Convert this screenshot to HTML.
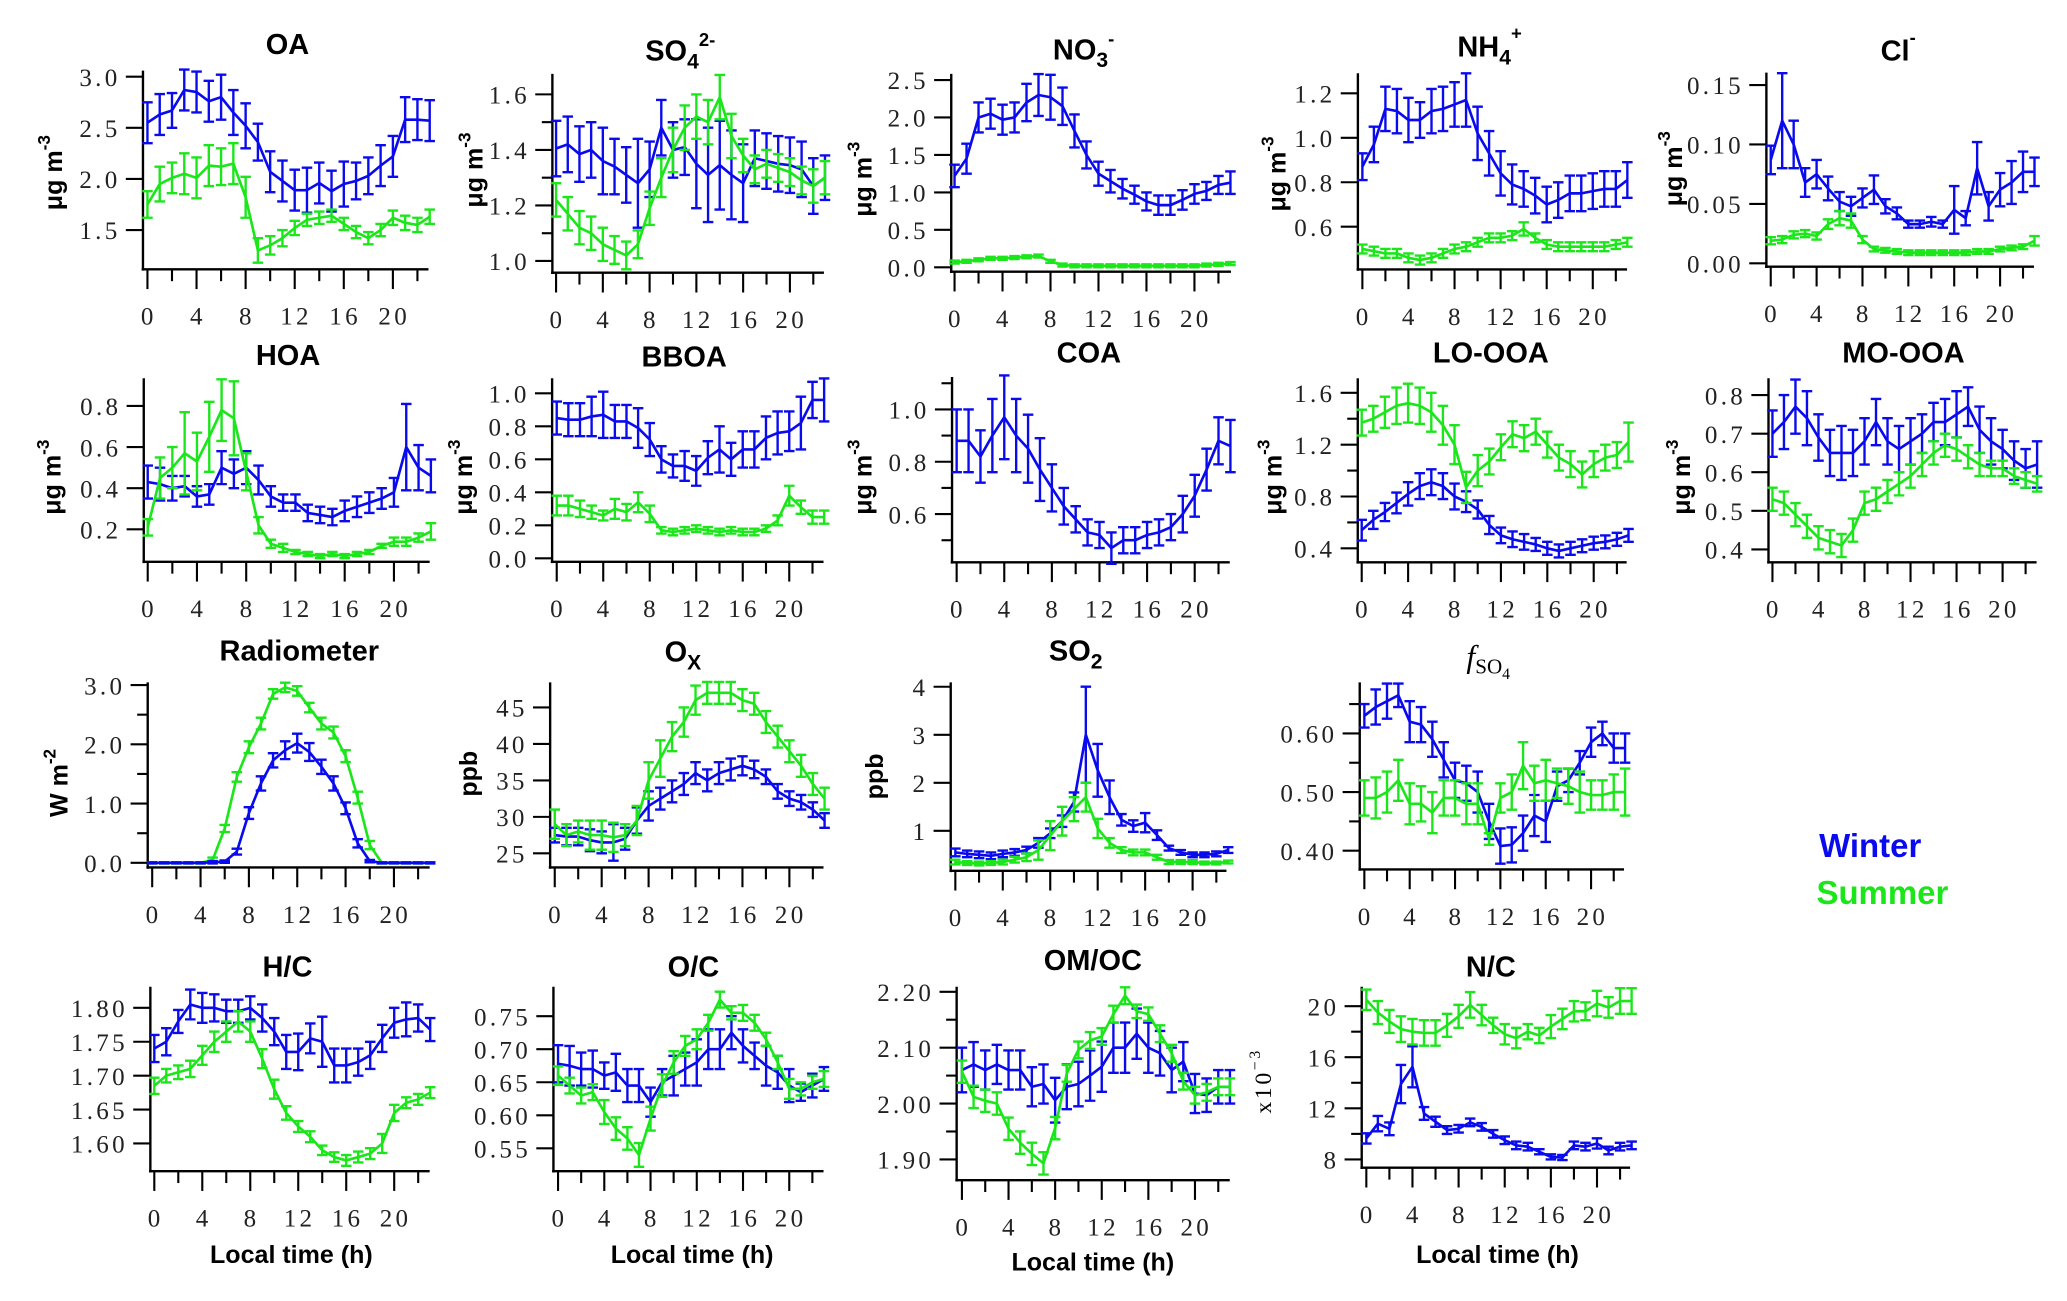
<!DOCTYPE html>
<html><head><meta charset="utf-8"><style>
html,body{margin:0;padding:0;background:#fff;}
svg{display:block;}
.tl{font-family:"Liberation Serif",serif;font-size:19px;letter-spacing:2.5px;fill:#222;}
.ti{font-family:"Liberation Sans",sans-serif;font-size:22px;font-weight:bold;fill:#000;}
.yl{font-family:"Liberation Sans",sans-serif;font-size:19px;font-weight:bold;fill:#000;}
.xl{font-family:"Liberation Sans",sans-serif;font-size:19px;font-weight:bold;fill:#000;}
</style></head><body>
<svg id="fig" xmlns="http://www.w3.org/2000/svg" width="2067" height="1301" viewBox="0 0 1568 987">
<rect x="0" y="0" width="1568" height="987" fill="#fff"/>
<g>
<text class="ti" x="218" y="41" text-anchor="middle">OA</text>
<text class="ti" x="516" y="46" text-anchor="middle">SO<tspan font-size="16" dy="6">4</tspan><tspan font-size="14" dy="-17">2-</tspan></text>
<text class="ti" x="822" y="45" text-anchor="middle">NO<tspan font-size="16" dy="6">3</tspan><tspan font-size="14" dy="-17">-</tspan></text>
<text class="ti" x="1130" y="43" text-anchor="middle">NH<tspan font-size="16" dy="6">4</tspan><tspan font-size="14" dy="-19">+</tspan></text>
<text class="ti" x="1440" y="46" text-anchor="middle">Cl<tspan font-size="14" dy="-13">-</tspan></text>
<text class="ti" x="218.5" y="277" text-anchor="middle">HOA</text>
<text class="ti" x="519" y="278" text-anchor="middle">BBOA</text>
<text class="ti" x="826" y="275" text-anchor="middle">COA</text>
<text class="ti" x="1131" y="275" text-anchor="middle">LO-OOA</text>
<text class="ti" x="1444" y="275" text-anchor="middle">MO-OOA</text>
<text class="ti" x="227" y="501" text-anchor="middle">Radiometer</text>
<text class="ti" x="518" y="502" text-anchor="middle">O<tspan font-size="16" dy="6">X</tspan></text>
<text class="ti" x="816" y="501" text-anchor="middle">SO<tspan font-size="16" dy="6">2</tspan></text>
<text x="1129" y="506" text-anchor="middle" style="font-family:'Liberation Serif',serif;font-size:24px;"><tspan font-style="italic">f</tspan><tspan font-size="16" dy="5">SO</tspan><tspan font-size="12" dy="4">4</tspan></text>
<text class="ti" x="218" y="741" text-anchor="middle">H/C</text>
<text class="ti" x="526" y="741" text-anchor="middle">O/C</text>
<text class="ti" x="829" y="736" text-anchor="middle">OM/OC</text>
<text class="ti" x="1131" y="741" text-anchor="middle">N/C</text>
</g>
<g>
<text class="yl" transform="translate(47,131) rotate(-90)" text-anchor="middle">μg m<tspan font-size="13" dy="-9">-3</tspan></text>
<text class="yl" transform="translate(366,129) rotate(-90)" text-anchor="middle">μg m<tspan font-size="13" dy="-9">-3</tspan></text>
<text class="yl" transform="translate(661,136) rotate(-90)" text-anchor="middle">μg m<tspan font-size="13" dy="-9">-3</tspan></text>
<text class="yl" transform="translate(975,132) rotate(-90)" text-anchor="middle">μg m<tspan font-size="13" dy="-9">-3</tspan></text>
<text class="yl" transform="translate(1276,128) rotate(-90)" text-anchor="middle">μg m<tspan font-size="13" dy="-9">-3</tspan></text>
<text class="yl" transform="translate(46,362) rotate(-90)" text-anchor="middle">μg m<tspan font-size="13" dy="-9">-3</tspan></text>
<text class="yl" transform="translate(358,362) rotate(-90)" text-anchor="middle">μg m<tspan font-size="13" dy="-9">-3</tspan></text>
<text class="yl" transform="translate(661,362) rotate(-90)" text-anchor="middle">μg m<tspan font-size="13" dy="-9">-3</tspan></text>
<text class="yl" transform="translate(972,362) rotate(-90)" text-anchor="middle">μg m<tspan font-size="13" dy="-9">-3</tspan></text>
<text class="yl" transform="translate(1282,362) rotate(-90)" text-anchor="middle">μg m<tspan font-size="13" dy="-9">-3</tspan></text>
<text class="yl" transform="translate(51,594) rotate(-90)" text-anchor="middle">W m<tspan font-size="13" dy="-9">-2</tspan></text>
<text class="yl" transform="translate(362,587) rotate(-90)" text-anchor="middle">ppb</text>
<text class="yl" transform="translate(670,589) rotate(-90)" text-anchor="middle">ppb</text>
<text transform="translate(964,820) rotate(-90)" text-anchor="middle" style="font-family:'Liberation Serif',serif;font-size:18px;letter-spacing:2px;">x10<tspan font-size="12" dy="-8">−3</tspan></text>
</g>
<g>
<text class="xl" x="221" y="958" text-anchor="middle">Local time (h)</text>
<text class="xl" x="525" y="958" text-anchor="middle">Local time (h)</text>
<text class="xl" x="829" y="964" text-anchor="middle">Local time (h)</text>
<text class="xl" x="1136" y="958" text-anchor="middle">Local time (h)</text>
</g>
<g>
<text x="1380" y="650" style="font-family:'Liberation Sans',sans-serif;font-size:25px;font-weight:bold;" fill="#0a0aef">Winter</text>
<text x="1378" y="686" style="font-family:'Liberation Sans',sans-serif;font-size:25px;font-weight:bold;" fill="#1ae61a">Summer</text>
</g>
<g id="panels"></g>
</svg>
<script>
const hours=[0,1,2,3,4,5,6,7,8,9,10,11,12,13,14,15,16,17,18,19,20,21,22,23];
const xTickHours=[0,2,4,6,8,10,12,14,16,18,20,22];
const xTickLabels=["0","","4","","8","","12","","16","","20",""];

const oaW=[2.55,2.63,2.67,2.87,2.85,2.76,2.80,2.65,2.52,2.36,2.07,1.98,1.89,1.89,1.96,1.88,1.95,1.98,2.03,2.13,2.22,2.58,2.58,2.57];
const oaWe=[0.2,0.2,0.17,0.2,0.2,0.2,0.22,0.22,0.22,0.18,0.2,0.2,0.2,0.22,0.2,0.2,0.22,0.18,0.18,0.2,0.2,0.22,0.2,0.2];
const oaS=[1.75,1.95,2.01,2.05,2.01,2.13,2.12,2.15,1.82,1.30,1.35,1.42,1.52,1.60,1.62,1.64,1.56,1.48,1.42,1.50,1.62,1.57,1.55,1.63];
const oaSe=[0.13,0.17,0.15,0.2,0.2,0.2,0.18,0.2,0.2,0.12,0.09,0.08,0.07,0.06,0.06,0.06,0.06,0.06,0.06,0.06,0.07,0.07,0.07,0.07];
const oaTicks=[1.5,2.0,2.5,3.0];

const so4W=[1.405,1.42,1.385,1.40,1.36,1.34,1.31,1.28,1.33,1.48,1.40,1.41,1.35,1.31,1.345,1.31,1.28,1.37,1.36,1.35,1.345,1.33,1.27,1.30];
const so4We=[0.1,0.1,0.1,0.1,0.12,0.1,0.1,0.16,0.1,0.1,0.1,0.1,0.16,0.17,0.16,0.16,0.14,0.1,0.1,0.1,0.1,0.1,0.1,0.08];
const so4S=[1.22,1.17,1.12,1.10,1.06,1.04,1.02,1.06,1.19,1.30,1.40,1.48,1.52,1.50,1.59,1.45,1.38,1.33,1.35,1.335,1.32,1.29,1.27,1.30];
const so4Se=[0.06,0.06,0.06,0.06,0.06,0.05,0.05,0.05,0.06,0.07,0.08,0.08,0.08,0.08,0.08,0.08,0.06,0.05,0.05,0.05,0.05,0.05,0.06,0.06];
const so4Ticks=[1.0,1.2,1.4,1.6];

const no3W=[1.22,1.45,2.0,2.05,1.97,2.0,2.2,2.3,2.27,2.15,1.82,1.5,1.25,1.15,1.05,0.97,0.88,0.83,0.83,0.9,0.98,1.02,1.1,1.13];
const no3We=[0.15,0.2,0.2,0.2,0.2,0.2,0.25,0.28,0.3,0.25,0.22,0.18,0.16,0.15,0.13,0.12,0.12,0.13,0.13,0.13,0.13,0.12,0.12,0.15];
const no3S=[0.07,0.08,0.1,0.12,0.12,0.13,0.14,0.15,0.08,0.03,0.02,0.02,0.02,0.02,0.02,0.02,0.02,0.02,0.02,0.02,0.02,0.03,0.04,0.05];
const no3Se=[0.02,0.02,0.02,0.02,0.02,0.02,0.02,0.02,0.02,0.02,0.02,0.02,0.02,0.02,0.02,0.02,0.02,0.02,0.02,0.02,0.02,0.02,0.02,0.02];
const no3Ticks=[0.0,0.5,1.0,1.5,2.0,2.5];

const nh4W=[0.87,0.97,1.13,1.12,1.08,1.08,1.12,1.13,1.15,1.17,1.02,0.93,0.84,0.79,0.77,0.74,0.70,0.72,0.75,0.75,0.76,0.77,0.77,0.81];
const nh4We=[0.06,0.08,0.1,0.1,0.1,0.08,0.1,0.1,0.1,0.12,0.12,0.1,0.1,0.09,0.08,0.08,0.08,0.08,0.08,0.08,0.08,0.08,0.08,0.08];
const nh4S=[0.50,0.49,0.48,0.48,0.46,0.45,0.46,0.48,0.50,0.51,0.53,0.55,0.55,0.56,0.59,0.55,0.52,0.51,0.51,0.51,0.51,0.51,0.52,0.53];
const nh4Se=[0.02,0.02,0.02,0.02,0.02,0.02,0.02,0.02,0.02,0.02,0.02,0.02,0.02,0.02,0.03,0.02,0.02,0.02,0.02,0.02,0.02,0.02,0.02,0.02];
const nh4Ticks=[0.6,0.8,1.0,1.2];

const clW=[0.087,0.12,0.10,0.068,0.075,0.063,0.052,0.048,0.055,0.062,0.048,0.042,0.033,0.033,0.035,0.033,0.045,0.038,0.08,0.048,0.062,0.068,0.077,0.077];
const clWe=[0.012,0.04,0.02,0.012,0.012,0.01,0.008,0.008,0.008,0.012,0.006,0.005,0.003,0.003,0.004,0.003,0.02,0.006,0.022,0.012,0.014,0.018,0.017,0.012];
const clS=[0.019,0.020,0.024,0.025,0.023,0.033,0.038,0.036,0.02,0.012,0.011,0.01,0.009,0.009,0.009,0.009,0.009,0.009,0.01,0.01,0.012,0.013,0.014,0.019];
const clSe=[0.003,0.003,0.003,0.003,0.003,0.004,0.006,0.006,0.003,0.002,0.002,0.002,0.002,0.002,0.002,0.002,0.002,0.002,0.002,0.002,0.002,0.002,0.002,0.004];
const clTicks=[0.00,0.05,0.10,0.15];

const hoaW=[0.43,0.42,0.40,0.41,0.36,0.37,0.50,0.47,0.50,0.44,0.36,0.33,0.33,0.28,0.27,0.26,0.29,0.31,0.33,0.35,0.38,0.60,0.50,0.46];
const hoaWe=[0.08,0.08,0.06,0.05,0.05,0.05,0.08,0.07,0.08,0.07,0.05,0.04,0.04,0.04,0.04,0.04,0.05,0.05,0.05,0.05,0.07,0.21,0.11,0.08];
const hoaS=[0.21,0.45,0.50,0.57,0.53,0.65,0.78,0.74,0.48,0.22,0.13,0.11,0.09,0.08,0.07,0.08,0.07,0.08,0.09,0.12,0.14,0.14,0.16,0.19];
const hoaSe=[0.04,0.1,0.1,0.2,0.14,0.17,0.15,0.18,0.09,0.04,0.02,0.02,0.01,0.01,0.01,0.01,0.01,0.01,0.01,0.01,0.02,0.02,0.02,0.04];
const hoaTicks=[0.2,0.4,0.6,0.8];

const bboaW=[0.85,0.84,0.84,0.86,0.87,0.83,0.83,0.79,0.72,0.60,0.56,0.56,0.53,0.61,0.66,0.60,0.66,0.66,0.73,0.76,0.77,0.82,0.96,0.96];
const bboaWe=[0.1,0.1,0.1,0.12,0.14,0.1,0.1,0.12,0.1,0.08,0.07,0.09,0.09,0.1,0.14,0.1,0.11,0.11,0.13,0.13,0.12,0.16,0.11,0.13];
const bboaS=[0.32,0.32,0.30,0.28,0.26,0.30,0.28,0.34,0.27,0.17,0.16,0.17,0.18,0.17,0.16,0.17,0.16,0.16,0.18,0.23,0.38,0.31,0.25,0.25];
const bboaSe=[0.06,0.06,0.05,0.04,0.03,0.06,0.05,0.06,0.05,0.02,0.02,0.02,0.02,0.02,0.02,0.02,0.02,0.02,0.02,0.03,0.06,0.04,0.04,0.04];
const bboaTicks=[0.0,0.2,0.4,0.6,0.8,1.0];

const coaW=[0.88,0.88,0.82,0.90,0.97,0.90,0.85,0.77,0.70,0.63,0.58,0.53,0.52,0.47,0.50,0.50,0.52,0.53,0.55,0.60,0.67,0.77,0.88,0.86];
const coaWe=[0.12,0.12,0.1,0.14,0.16,0.14,0.13,0.12,0.09,0.07,0.05,0.05,0.05,0.06,0.05,0.05,0.05,0.05,0.05,0.07,0.08,0.08,0.09,0.1];
const coaTicks=[0.6,0.8,1.0];

const looW=[0.54,0.62,0.68,0.75,0.82,0.88,0.91,0.88,0.80,0.76,0.70,0.58,0.50,0.47,0.45,0.43,0.40,0.38,0.40,0.42,0.44,0.45,0.47,0.50];
const looWe=[0.08,0.07,0.07,0.08,0.09,0.1,0.1,0.1,0.1,0.08,0.07,0.07,0.06,0.06,0.06,0.05,0.05,0.05,0.05,0.05,0.05,0.05,0.05,0.05];
const looS=[1.37,1.40,1.45,1.50,1.52,1.50,1.45,1.35,1.20,0.87,1.00,1.07,1.18,1.28,1.25,1.30,1.20,1.10,1.05,0.97,1.05,1.10,1.12,1.22];
const looSe=[0.1,0.1,0.12,0.14,0.15,0.14,0.15,0.15,0.15,0.12,0.12,0.1,0.1,0.1,0.1,0.1,0.1,0.1,0.1,0.1,0.1,0.1,0.1,0.15];
const looTicks=[0.4,0.8,1.2,1.6];

const mooW=[0.70,0.73,0.77,0.74,0.69,0.65,0.65,0.65,0.68,0.73,0.68,0.66,0.68,0.70,0.73,0.73,0.75,0.77,0.71,0.68,0.66,0.63,0.61,0.62];
const mooWe=[0.06,0.07,0.07,0.07,0.06,0.06,0.07,0.06,0.06,0.06,0.06,0.06,0.06,0.05,0.05,0.06,0.06,0.05,0.06,0.06,0.05,0.05,0.05,0.06];
const mooS=[0.53,0.52,0.49,0.46,0.43,0.42,0.41,0.45,0.52,0.53,0.55,0.57,0.59,0.62,0.65,0.67,0.66,0.64,0.62,0.61,0.61,0.59,0.58,0.57];
const mooSe=[0.03,0.03,0.03,0.03,0.03,0.03,0.03,0.03,0.03,0.03,0.03,0.03,0.03,0.03,0.03,0.03,0.03,0.03,0.03,0.02,0.02,0.02,0.02,0.02];
const mooTicks=[0.4,0.5,0.6,0.7,0.8];

const radW=[0,0,0,0,0,0.01,0.02,0.19,0.84,1.34,1.73,1.9,2.02,1.87,1.62,1.34,0.92,0.33,0.03,0,0,0,0,0];
const radWe=[0.01,0.01,0.01,0.01,0.01,0.02,0.02,0.05,0.1,0.12,0.12,0.15,0.16,0.15,0.12,0.12,0.1,0.07,0.02,0.01,0.01,0.01,0.01,0.01];
const radS=[0,0,0,0,0,0.05,0.58,1.45,1.95,2.35,2.85,2.96,2.9,2.62,2.35,2.2,1.8,1.1,0.3,0,0,0,0,0];
const radSe=[0.01,0.01,0.01,0.01,0.01,0.04,0.06,0.08,0.1,0.1,0.08,0.08,0.08,0.08,0.1,0.1,0.1,0.1,0.07,0.01,0.01,0.01,0.01,0.01];
const radTicks=[0.0,1.0,2.0,3.0];

const oxW=[27.5,27.3,27.3,26.8,26.5,26.5,27.0,29.5,31.5,32.5,33.5,34.5,36.0,35.0,36.0,36.5,37.0,36.5,35.5,33.5,32.5,32.0,31.0,29.5];
const oxWe=[1.0,1.2,1.2,1.5,1.5,2.5,1.5,1.8,2.0,1.5,1.5,1.5,1.5,1.5,1.5,1.5,1.3,1.2,1.0,1.0,1.0,1.0,1.0,1.0];
const oxS=[29.0,27.5,28.0,27.5,27.5,27.2,27.5,29.5,35.0,38.0,41.0,43.0,46.0,47.0,47.0,47.0,46.0,45.5,43.0,41.0,39.0,37.0,34.5,32.5];
const oxSe=[2.0,1.5,1.5,2.0,2.0,2.0,1.5,2.0,2.5,2.5,2.0,2.0,2.0,1.5,1.5,1.5,1.5,1.5,1.5,1.5,1.5,1.5,1.5,1.5];
const oxTicks=[25,30,35,40,45];

const so2W=[0.55,0.52,0.50,0.48,0.52,0.55,0.60,0.75,0.95,1.2,1.6,3.0,2.26,1.7,1.23,1.1,1.17,0.91,0.64,0.55,0.5,0.5,0.52,0.6];
const so2We=[0.08,0.07,0.07,0.07,0.07,0.07,0.07,0.1,0.1,0.12,0.2,1.0,0.55,0.35,0.12,0.12,0.2,0.1,0.05,0.05,0.05,0.05,0.05,0.06];
const so2S=[0.35,0.33,0.32,0.33,0.35,0.4,0.45,0.6,0.9,1.2,1.45,1.7,1.05,0.75,0.6,0.55,0.55,0.45,0.35,0.35,0.35,0.33,0.33,0.35];
const so2Se=[0.05,0.04,0.04,0.04,0.05,0.06,0.08,0.2,0.3,0.3,0.25,0.3,0.2,0.1,0.06,0.06,0.06,0.05,0.04,0.04,0.04,0.03,0.03,0.03];
const so2Ticks=[1,2,3,4];

const fso4W=[0.63,0.645,0.655,0.665,0.62,0.615,0.59,0.555,0.52,0.515,0.50,0.45,0.408,0.41,0.43,0.46,0.45,0.51,0.52,0.55,0.585,0.60,0.575,0.575];
const fso4We=[0.02,0.03,0.03,0.02,0.035,0.03,0.03,0.03,0.03,0.03,0.035,0.03,0.03,0.03,0.03,0.035,0.035,0.025,0.02,0.02,0.025,0.02,0.025,0.025];
const fso4S=[0.49,0.49,0.50,0.52,0.48,0.48,0.465,0.49,0.49,0.48,0.48,0.42,0.49,0.50,0.545,0.515,0.52,0.515,0.51,0.50,0.495,0.495,0.50,0.50];
const fso4Se=[0.03,0.035,0.035,0.035,0.035,0.03,0.035,0.03,0.03,0.035,0.035,0.01,0.025,0.03,0.04,0.03,0.035,0.025,0.03,0.035,0.025,0.025,0.03,0.04];
const fso4Ticks=[0.40,0.50,0.60];

const hcW=[1.74,1.75,1.78,1.805,1.80,1.80,1.795,1.795,1.80,1.785,1.765,1.735,1.735,1.755,1.75,1.715,1.715,1.72,1.73,1.755,1.778,1.783,1.785,1.768];
const hcWe=[0.02,0.02,0.017,0.022,0.022,0.02,0.017,0.017,0.017,0.02,0.02,0.025,0.027,0.022,0.037,0.025,0.025,0.02,0.02,0.02,0.022,0.025,0.02,0.017];
const hcS=[1.685,1.70,1.705,1.71,1.73,1.75,1.765,1.78,1.765,1.725,1.68,1.645,1.625,1.61,1.59,1.58,1.575,1.58,1.585,1.60,1.645,1.66,1.665,1.675];
const hcSe=[0.012,0.01,0.01,0.012,0.014,0.015,0.015,0.015,0.015,0.014,0.014,0.01,0.008,0.008,0.007,0.007,0.008,0.008,0.008,0.014,0.012,0.008,0.008,0.008];
const hcTicks=[1.60,1.65,1.70,1.75,1.80];

const ocW=[0.678,0.675,0.67,0.67,0.66,0.665,0.645,0.645,0.62,0.65,0.66,0.67,0.68,0.70,0.70,0.725,0.705,0.69,0.675,0.665,0.645,0.635,0.645,0.655];
const ocWe=[0.028,0.03,0.025,0.028,0.02,0.028,0.025,0.025,0.022,0.02,0.03,0.025,0.035,0.03,0.03,0.025,0.025,0.02,0.03,0.025,0.025,0.013,0.018,0.018];
const ocS=[0.66,0.645,0.63,0.635,0.605,0.58,0.565,0.54,0.595,0.645,0.68,0.705,0.715,0.74,0.775,0.755,0.755,0.74,0.715,0.68,0.64,0.64,0.65,0.655];
const ocSe=[0.014,0.012,0.012,0.012,0.018,0.017,0.017,0.018,0.018,0.017,0.017,0.015,0.015,0.012,0.012,0.01,0.012,0.012,0.01,0.01,0.015,0.01,0.01,0.012];
const ocTicks=[0.55,0.60,0.65,0.70,0.75];

const omocW=[2.06,2.07,2.06,2.07,2.06,2.06,2.03,2.035,2.006,2.03,2.035,2.05,2.066,2.10,2.10,2.125,2.10,2.09,2.06,2.075,2.018,2.015,2.03,2.03];
const omocWe=[0.04,0.04,0.035,0.035,0.035,0.035,0.035,0.035,0.04,0.04,0.04,0.045,0.045,0.045,0.045,0.045,0.045,0.04,0.04,0.035,0.035,0.03,0.03,0.03];
const omocS=[2.057,2.012,2.005,2.0,1.955,1.93,1.91,1.893,1.956,2.054,2.096,2.113,2.12,2.16,2.193,2.165,2.16,2.125,2.09,2.04,2.015,2.02,2.03,2.03];
const omocSe=[0.02,0.02,0.02,0.02,0.02,0.02,0.02,0.02,0.02,0.015,0.015,0.015,0.015,0.015,0.015,0.012,0.012,0.015,0.015,0.015,0.015,0.015,0.015,0.015];
const omocTicks=[1.90,2.00,2.10,2.20];

const ncW=[9.64,10.8,10.4,13.9,15.25,11.6,10.95,10.3,10.4,10.9,10.55,10.0,9.5,9.1,9.0,8.6,8.2,8.15,9.1,9.0,9.25,8.7,9.0,9.1];
const ncWe=[0.4,0.6,0.5,1.5,1.6,0.5,0.4,0.3,0.3,0.3,0.3,0.3,0.3,0.3,0.3,0.2,0.2,0.2,0.3,0.3,0.4,0.3,0.3,0.3];
const ncS=[20.5,19.5,18.8,18.2,18.0,17.9,17.9,18.5,19.2,20.1,19.3,18.5,17.8,17.5,18.0,17.7,18.4,19.0,19.6,19.6,20.2,19.9,20.4,20.4];
const ncSe=[0.8,0.9,0.9,1.0,1.0,1.0,1.0,0.9,0.9,1.0,0.8,0.6,0.8,0.8,0.6,0.6,0.9,0.8,0.8,0.7,1.0,0.8,1.0,1.0];
const ncTicks=[8,12,16,20];

const BLUE="#0a0aef", GREEN="#1ae61a", NS="http://www.w3.org/2000/svg";
const root=document.getElementById("panels");

function mk(tag,attrs,parent){const e=document.createElementNS(NS,tag);for(const k in attrs)e.setAttribute(k,attrs[k]);parent.appendChild(e);return e;}

function drawPanel(c, ticks, series){
  const g=mk("g",{},root);
  
  
  const xs=h=>c.x0+h*c.pph;
  const ys=v=>c.y1+(v-c.v1)*(c.y2-c.y1)/(c.v2-c.v1);
  const ya=mk("line",{x1:c.ax,y1:c.top,x2:c.ax,y2:c.base+1,stroke:"#000","stroke-width":1.8},g);
  
  
  const xa=mk("line",{x1:c.ax-1,y1:c.base,x2:c.xEnd,y2:c.base,stroke:"#000","stroke-width":1.8},g);
  
  
  xTickHours.forEach((h,i)=>{
    const major=(h%4===0);
    const t=mk("line",{x1:xs(h),y1:c.base,x2:xs(h),y2:c.base+(major?15:9),stroke:"#000","stroke-width":1.6},g);
    
    
    if(xTickLabels[i]!==""){
      const tx=mk("text",{x:xs(h)+1,y:c.base+42,"text-anchor":"middle",class:"tl"},g);
      tx.textContent=xTickLabels[i];
      
      
    }
  });
  ticks.forEach(v=>{
    const t=mk("line",{x1:c.ax-13,y1:ys(v),x2:c.ax,y2:ys(v),stroke:"#000","stroke-width":1.6},g);
    
    
    const tx=mk("text",{x:c.ax-17,y:ys(v)+7,"text-anchor":"end",class:"tl"},g);
    tx.textContent=v.toFixed(c.dec);
    
    
  });
  (c.minor||[]).forEach(v=>{
    const t=mk("line",{x1:c.ax-8,y1:ys(v),x2:c.ax,y2:ys(v),stroke:"#000","stroke-width":1.6},g);
    
    
  });
  series.forEach(s=>{
    const sg=mk("g",{stroke:s.color,"stroke-width":1.8,fill:"none"},g);
    
    
    s.vals.forEach((v,i)=>{
      const x=xs(hours[i]), lo=ys(v-s.err[i]), hi=ys(v+s.err[i]);
      const eb=mk("path",{d:`M${x},${lo}V${hi}M${x-4},${lo}H${x+4}M${x-4},${hi}H${x+4}`},sg);
      
      
    });
    const pts=s.vals.map((v,i)=>xs(hours[i]).toFixed(2)+","+ys(v).toFixed(2)).join(" ");
    const pl=mk("polyline",{points:pts,"stroke-width":2,"stroke-linejoin":"round"},sg);
    
    
  });
}
function W(v,e){return {color:BLUE,label:"winter",vals:v,err:e};}
function S(v,e){return {color:GREEN,label:"summer",vals:v,err:e};}

drawPanel({name:"oa",ax:108.4,x0:111.8,pph:9.31,xEnd:325,base:204.3,top:53.6,v1:3.0,y1:58.2,v2:1.5,y2:174.5,dec:1},oaTicks,[W(oaW,oaWe),S(oaS,oaSe)]);
drawPanel({name:"so4",ax:419,x0:421.8,pph:8.87,xEnd:625,base:206.9,top:56,v1:1.6,y1:71.6,v2:1.0,y2:198,dec:1,minor:[1.1,1.3,1.5]},so4Ticks,[W(so4W,so4We),S(so4S,so4Se)]);
drawPanel({name:"no3",ax:721.6,x0:724.1,pph:9.1,xEnd:933.8,base:206.1,top:56,v1:2.5,y1:60.7,v2:0,y2:202.8,dec:1},no3Ticks,[W(no3W,no3We),S(no3S,no3Se)]);
drawPanel({name:"nh4",ax:1030.1,x0:1033.5,pph:8.74,xEnd:1234.3,base:204.4,top:55.6,v1:1.2,y1:70.8,v2:0.6,y2:172,dec:1},nh4Ticks,[W(nh4W,nh4We),S(nh4S,nh4Se)]);
drawPanel({name:"cl",ax:1340,x0:1343.3,pph:8.7,xEnd:1543,base:202.3,top:55.1,v1:0.15,y1:64.5,v2:0,y2:199.8,dec:2},clTicks,[W(clW,clWe),S(clS,clSe)]);

drawPanel({name:"hoa",ax:109,x0:112,pph:9.34,xEnd:325.9,base:426.2,top:287,v1:0.8,y1:308,v2:0.2,y2:401.6,dec:1},hoaTicks,[W(hoaW,hoaWe),S(hoaS,hoaSe)]);
drawPanel({name:"bboa",ax:418.8,x0:422.3,pph:8.82,xEnd:624.7,base:426.2,top:287,v1:1.0,y1:298.4,v2:0,y2:423.6,dec:1},bboaTicks,[W(bboaW,bboaWe),S(bboaS,bboaSe)]);
drawPanel({name:"coa",ax:722.2,x0:725.7,pph:9.03,xEnd:932.9,base:426.6,top:286,v1:1.0,y1:310.6,v2:0.6,y2:390,dec:1,minor:[0.5,0.7,0.9,1.1]},coaTicks,[W(coaW,coaWe)]);
drawPanel({name:"lo-ooa",ax:1030,x0:1033,pph:8.8,xEnd:1234,base:426.6,top:287,v1:1.6,y1:298,v2:0.4,y2:416,dec:1,minor:[0.6,1.0,1.4]},looTicks,[W(looW,looWe),S(looS,looSe)]);
drawPanel({name:"mo-ooa",ax:1341.6,x0:1344.6,pph:8.73,xEnd:1545,base:426.6,top:287,v1:0.8,y1:299.7,v2:0.4,y2:416.8,dec:1},mooTicks,[W(mooW,mooWe),S(mooS,mooSe)]);

drawPanel({name:"radiometer",ax:112,x0:115.4,pph:9.17,xEnd:325.9,base:658.1,top:517.7,v1:3,y1:519.7,v2:0,y2:654.6,dec:1,minor:[0.5,1.5,2.5]},radTicks,[S(radS,radSe),W(radW,radWe)]);
drawPanel({name:"ox",ax:417.3,x0:420.8,pph:8.9,xEnd:624.7,base:658.1,top:517.7,v1:45,y1:536.7,v2:25,y2:647.4,dec:0},oxTicks,[W(oxW,oxWe),S(oxS,oxSe)]);
drawPanel({name:"so2",ax:721.2,x0:724.7,pph:9.0,xEnd:930.4,base:660.6,top:517.7,v1:4,y1:521,v2:1,y2:630.3,dec:0},so2Ticks,[W(so2W,so2We),S(so2S,so2Se)]);
drawPanel({name:"fso4",ax:1031.5,x0:1035,pph:8.6,xEnd:1232,base:659.6,top:517.7,v1:0.6,y1:556.4,v2:0.4,y2:645.4,dec:2,minor:[0.45,0.55,0.65]},fso4Ticks,[W(fso4W,fso4We),S(fso4S,fso4Se)]);

drawPanel({name:"hc",ax:114,x0:117,pph:9.1,xEnd:325.9,base:888.5,top:748.6,v1:1.8,y1:764.6,v2:1.6,y2:867.5,dec:2},hcTicks,[W(hcW,hcWe),S(hcS,hcSe)]);
drawPanel({name:"oc",ax:419.8,x0:423.3,pph:8.77,xEnd:624.7,base:888.5,top:748.6,v1:0.75,y1:770.9,v2:0.55,y2:871.2,dec:2},ocTicks,[W(ocW,ocWe),S(ocS,ocSe)]);
drawPanel({name:"omoc",ax:725.7,x0:729.7,pph:8.84,xEnd:932.9,base:895.3,top:748.6,v1:2.2,y1:752.4,v2:1.9,y2:879.6,dec:2,minor:[1.95,2.05,2.15]},omocTicks,[W(omocW,omocWe),S(omocS,omocSe)]);
drawPanel({name:"nc",ax:1033,x0:1036.5,pph:8.75,xEnd:1236.6,base:885.9,top:748.6,v1:20,y1:763.3,v2:8,y2:879.6,dec:0,minor:[10,14,18]},ncTicks,[W(ncW,ncWe),S(ncS,ncSe)]);
</script>
</body></html>
